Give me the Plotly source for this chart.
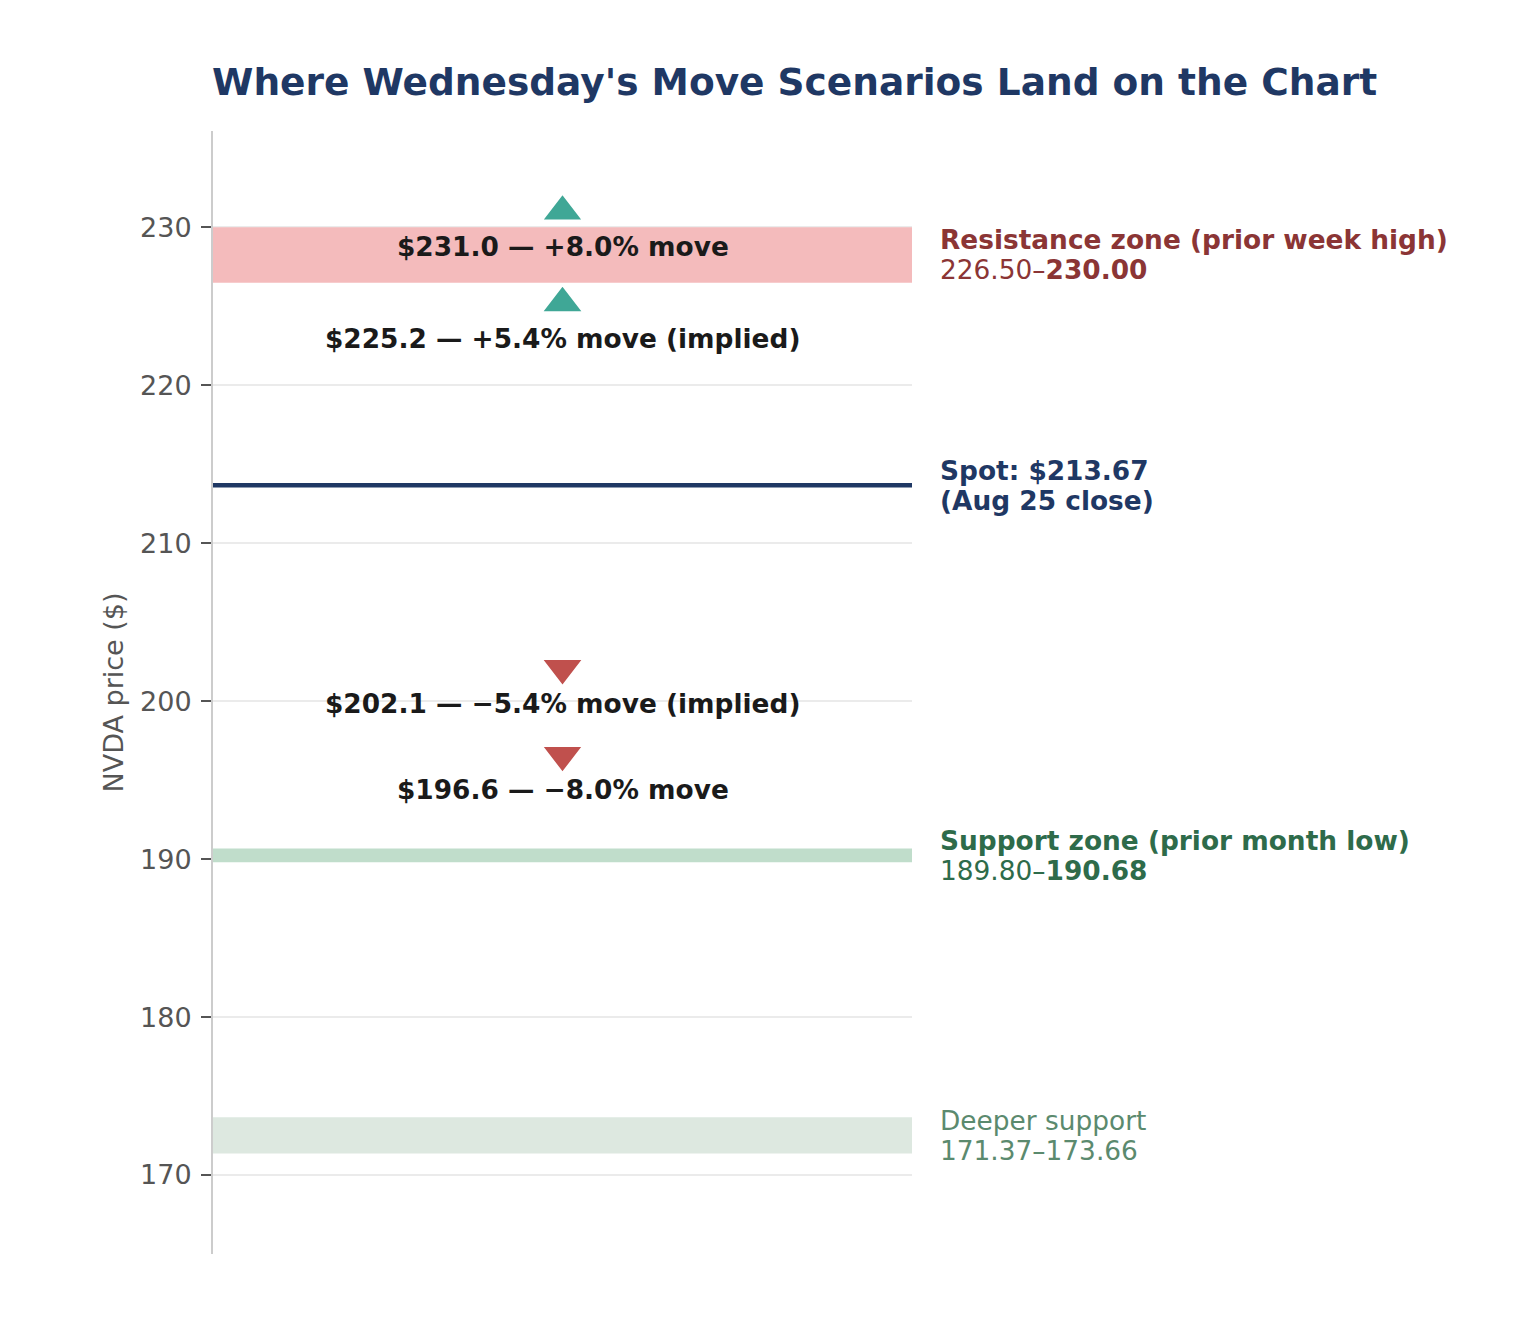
import plotly.graph_objects as go

# price zones (low, high)
zone_lows = [226.50, 189.80, 171.37]
zone_highs = [230.00, 190.68, 173.66]
zone_fills = ["#f4bbbc", "#c0ddcb", "#dde8e0"]
zone_line1 = ["<b>Resistance zone (prior week high)</b>",
              "<b>Support zone (prior month low)</b>",
              "Deeper support"]
zone_line2 = ["226.50–<b>230.00</b>", "189.80–<b>190.68</b>", "171.37–173.66"]
zone_text_colors = ["#8b3535", "#2e6b4a", "#5b8a6e"]

spot = 213.67
spot_line1 = "<b>Spot: $213.67</b>"
spot_line2 = "<b>(Aug 25 close)</b>"

# move scenarios
scen_prices = [231.0, 225.2, 202.1, 196.6]
scen_labels = [
    "$231.0 — +8.0% move",
    "$225.2 — +5.4% move (implied)",
    "$202.1 — −5.4% move (implied)",
    "$196.6 — −8.0% move",
]
scen_up = [True, True, False, False]

NAVY = "#1f3864"
UP = "#3fa796"
DOWN = "#c0504d"
FONT = "DejaVu Sans"

fig = go.Figure()

for lo, hi, fill in zip(zone_lows, zone_highs, zone_fills):
    fig.add_shape(type="rect", xref="x", yref="y", x0=0, x1=1, y0=lo, y1=hi,
                  fillcolor=fill, line=dict(width=0), layer="between")

fig.add_trace(go.Scatter(x=[0, 1], y=[spot, spot], mode="lines",
                         line=dict(color=NAVY, width=4.5), hoverinfo="skip"))

for p, up in zip(scen_prices, scen_up):
    fig.add_trace(go.Scatter(
        x=[0.5], y=[p], mode="markers",
        marker=dict(symbol="triangle-up" if up else "triangle-down", size=36,
                    color=UP if up else DOWN, line=dict(color="white", width=2))))

for p, t in zip(scen_prices, scen_labels):
    fig.add_annotation(x=0.5, y=p, text="<b>" + t + "</b>", showarrow=False,
                       yshift=-35, font=dict(family=FONT, size=26.4, color="#1a1a1a"))


def side_label(y, l1, l2, color):
    for txt, dy in ((l1, 15), (l2, -15)):
        fig.add_annotation(xref="paper", x=1, y=y, text=txt, showarrow=False,
                           xanchor="left", xshift=26, yshift=dy, align="left",
                           font=dict(family=FONT, size=26.4, color=color))


for lo, hi, a, b, c in zip(zone_lows, zone_highs, zone_line1, zone_line2, zone_text_colors):
    side_label((lo + hi) / 2, a, b, c)
side_label(spot, spot_line1, spot_line2, NAVY)

fig.update_layout(
    width=1504, height=1304,
    margin=dict(l=205, r=600, t=123, b=58),
    plot_bgcolor="white", paper_bgcolor="white",
    showlegend=False,
    font=dict(family=FONT, color="#555555"),
    title=dict(text="<b>Where Wednesday's Move Scenarios Land on the Chart</b>",
               x=0.523, xanchor="center", y=0.943, yanchor="middle",
               font=dict(family=FONT, size=37.5, color=NAVY)),
)
fig.update_xaxes(range=[0, 1], visible=False, showgrid=False)
fig.update_yaxes(range=[165, 236.1], dtick=10, tick0=170,
                 showgrid=True, gridcolor="#ebebeb", gridwidth=1.5,
                 showline=True, linecolor="#cccccc", linewidth=2,
                 ticks="outside", ticklen=10, tickcolor="#555555", tickwidth=2,
                 ticklabelstandoff=4,
                 tickfont=dict(size=27, color="#555555"), zeroline=False,
                 title=dict(text="NVDA price ($)", font=dict(size=27, color="#555555"),
                            standoff=9))

fig.write_html("out.html")
